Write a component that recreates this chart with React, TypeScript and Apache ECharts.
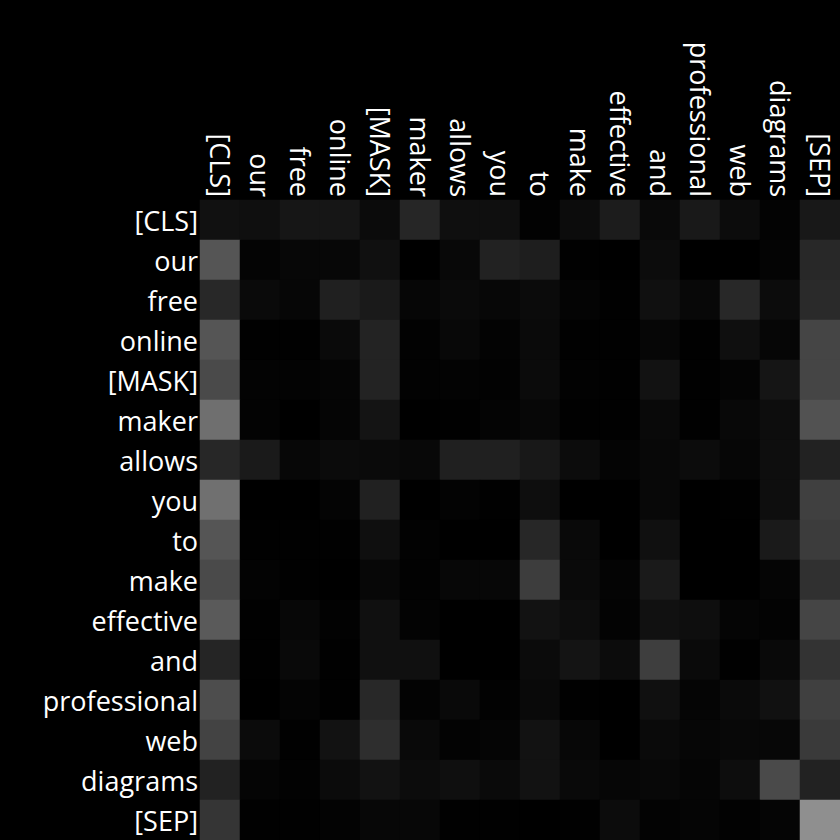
import React, { useEffect, useRef } from "react";
import * as echarts from "echarts";

const tokens = [
  "[CLS]", "our", "free", "online", "[MASK]", "maker", "allows", "you",
  "to", "make", "effective", "and", "professional", "web", "diagrams", "[SEP]",
];

// attention weights (row = query token, column = key token), 0..1 scale
const row0 = [0.067, 0.059, 0.086, 0.086, 0.043, 0.149, 0.059, 0.059, 0.008, 0.047, 0.110, 0.035, 0.098, 0.047, 0.012, 0.094];
const row1 = [0.333, 0.016, 0.027, 0.027, 0.063, 0.000, 0.031, 0.133, 0.118, 0.004, 0.000, 0.047, 0.000, 0.000, 0.016, 0.157];
const row2 = [0.157, 0.039, 0.024, 0.125, 0.102, 0.024, 0.039, 0.027, 0.043, 0.016, 0.004, 0.063, 0.031, 0.157, 0.047, 0.165];
const row3 = [0.333, 0.004, 0.004, 0.039, 0.137, 0.008, 0.031, 0.012, 0.039, 0.004, 0.004, 0.024, 0.004, 0.059, 0.024, 0.271];
const row4 = [0.290, 0.012, 0.012, 0.020, 0.137, 0.008, 0.012, 0.008, 0.043, 0.008, 0.004, 0.071, 0.004, 0.016, 0.082, 0.271];
const row5 = [0.435, 0.012, 0.000, 0.020, 0.078, 0.000, 0.004, 0.016, 0.027, 0.004, 0.004, 0.035, 0.004, 0.031, 0.051, 0.322];
const row6 = [0.153, 0.102, 0.027, 0.043, 0.039, 0.031, 0.125, 0.125, 0.094, 0.047, 0.016, 0.031, 0.047, 0.024, 0.055, 0.133];
const row7 = [0.439, 0.000, 0.000, 0.016, 0.129, 0.000, 0.012, 0.004, 0.055, 0.000, 0.000, 0.031, 0.000, 0.004, 0.055, 0.251];
const row8 = [0.333, 0.004, 0.004, 0.004, 0.059, 0.008, 0.000, 0.000, 0.153, 0.035, 0.000, 0.063, 0.000, 0.000, 0.102, 0.235];
const row9 = [0.290, 0.012, 0.004, 0.000, 0.027, 0.008, 0.027, 0.027, 0.239, 0.039, 0.016, 0.102, 0.000, 0.000, 0.020, 0.188];
const row10 = [0.353, 0.004, 0.027, 0.008, 0.063, 0.012, 0.000, 0.000, 0.071, 0.051, 0.012, 0.067, 0.055, 0.020, 0.012, 0.271];
const row11 = [0.145, 0.004, 0.035, 0.004, 0.063, 0.063, 0.000, 0.000, 0.043, 0.078, 0.047, 0.243, 0.039, 0.004, 0.035, 0.200];
const row12 = [0.302, 0.000, 0.016, 0.004, 0.157, 0.012, 0.035, 0.008, 0.035, 0.004, 0.000, 0.063, 0.020, 0.039, 0.067, 0.251];
const row13 = [0.263, 0.043, 0.004, 0.071, 0.180, 0.035, 0.012, 0.020, 0.071, 0.027, 0.000, 0.039, 0.024, 0.031, 0.027, 0.227];
const row14 = [0.133, 0.020, 0.008, 0.043, 0.071, 0.047, 0.059, 0.039, 0.071, 0.035, 0.024, 0.031, 0.020, 0.051, 0.290, 0.133];
const row15 = [0.208, 0.004, 0.004, 0.012, 0.027, 0.027, 0.004, 0.004, 0.000, 0.004, 0.047, 0.012, 0.020, 0.008, 0.020, 0.561];

const rows = [row0, row1, row2, row3, row4, row5, row6, row7, row8, row9, row10, row11, row12, row13, row14, row15];

export default function App() {
  const ref = useRef<HTMLDivElement>(null);
  useEffect(() => {
    if (!ref.current) return;
    const chart = echarts.init(ref.current, null, { renderer: "svg" });
    const data: [number, number, number][] = [];
    rows.forEach((r, i) => r.forEach((v, j) => data.push([j, i, v])));
    chart.setOption({
      animation: false,
      backgroundColor: "#000000",
      grid: { left: 200, top: 200, width: 640, height: 640 },
      xAxis: {
        type: "category",
        position: "top",
        data: tokens,
        axisLine: { show: false },
        axisTick: { show: false },
        splitLine: { show: false },
        axisLabel: {
          rotate: 90,
          margin: 3,
          color: "#ffffff",
          fontSize: 27,
          fontFamily: "Open Sans",
          interval: 0,
        },
      },
      yAxis: {
        type: "category",
        inverse: true,
        data: tokens,
        axisLine: { show: false },
        axisTick: { show: false },
        splitLine: { show: false },
        axisLabel: {
          margin: 2,
          color: "#ffffff",
          fontSize: 27,
          fontFamily: "Open Sans",
          interval: 0,
        },
      },
      visualMap: {
        show: false,
        min: 0,
        max: 1,
        inRange: { color: ["#000000", "#ffffff"] },
      },
      series: [
        {
          type: "heatmap",
          data,
          itemStyle: { borderWidth: 0 },
          emphasis: { disabled: true },
        },
      ],
    });
    return () => chart.dispose();
  }, []);
  return (
    <div
      ref={ref}
      style={{ width: 840, height: 840, position: "absolute", left: 0, top: 0 }}
    />
  );
}
